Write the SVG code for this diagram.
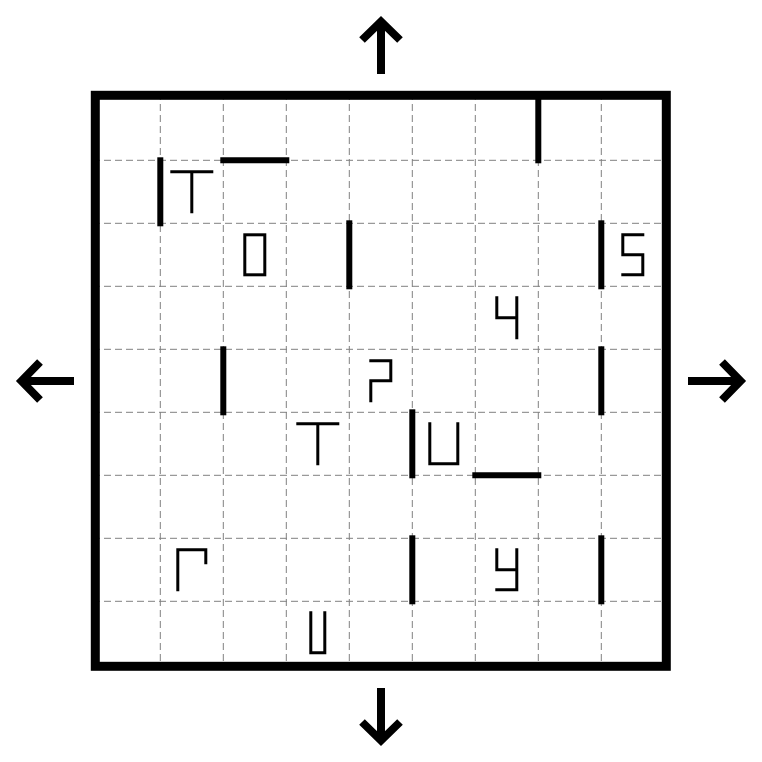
<svg xmlns="http://www.w3.org/2000/svg" width="762" height="762" viewBox="0 0 762 762">
<style>
.grid{stroke:#808080;stroke-width:1;stroke-dasharray:7 4;fill:none}
.wall{stroke:#000;stroke-width:6;stroke-linecap:square;fill:none}
.glyph{stroke:#000;stroke-width:3;stroke-linecap:square;stroke-linejoin:miter;fill:none}
.arrow{stroke:#000;stroke-width:8;stroke-linecap:butt;stroke-linejoin:miter;fill:none}
.border{stroke:#000;stroke-width:9;fill:none}
</style>
<rect x="0" y="0" width="762" height="762" fill="#fff"/>
<g id="grid">
<path class="grid" d="M160.3 93V666 M223.3 93V666 M286.3 93V666 M349.3 93V666 M412.3 93V666 M475.3 93V666 M538.3 93V666 M601.3 93V666"/>
<path class="grid" d="M93 160.3H666 M93 223.3H666 M93 286.3H666 M93 349.3H666 M93 412.3H666 M93 475.3H666 M93 538.3H666 M93 601.3H666"/>
</g>
<g id="walls">
<line class="wall" x1="160.3" y1="160.3" x2="160.3" y2="223.3"/>
<line class="wall" x1="223.3" y1="160.3" x2="286.3" y2="160.3"/>
<line class="wall" x1="349.3" y1="223.3" x2="349.3" y2="286.3"/>
<line class="wall" x1="538.3" y1="97.3" x2="538.3" y2="160.3"/>
<line class="wall" x1="601.3" y1="223.3" x2="601.3" y2="286.3"/>
<line class="wall" x1="223.3" y1="349.3" x2="223.3" y2="412.3"/>
<line class="wall" x1="601.3" y1="349.3" x2="601.3" y2="412.3"/>
<line class="wall" x1="412.3" y1="412.3" x2="412.3" y2="475.3"/>
<line class="wall" x1="475.3" y1="475.3" x2="538.3" y2="475.3"/>
<line class="wall" x1="412.3" y1="538.3" x2="412.3" y2="601.3"/>
<line class="wall" x1="601.3" y1="538.3" x2="601.3" y2="601.3"/>
</g>
<rect id="frame" class="border" x="95.3" y="95.3" width="571" height="571"/>
<g id="glyph-T1" transform="translate(191.8,191.8)"><path class="glyph" d="M-20 -20H20 M0 -20V20"/></g>
<g id="glyph-0" transform="translate(254.8,254.8)"><rect class="glyph" x="-10" y="-20" width="20" height="40"/></g>
<g id="glyph-S" transform="translate(632.8,254.8)"><path class="glyph" d="M10 -20H-10V0H10V20H-10"/></g>
<g id="glyph-4" transform="translate(506.8,317.8)"><path class="glyph" d="M-10 -20V0H10 M10 -20V20"/></g>
<g id="glyph-q" transform="translate(380.8,380.8)"><path class="glyph" d="M-10 -20H10V0H-10V20"/></g>
<g id="glyph-T2" transform="translate(317.8,443.8)"><path class="glyph" d="M-20 -20H20 M0 -20V20"/></g>
<g id="glyph-U1" transform="translate(443.8,443.8)"><path class="glyph" d="M-14 -20V20H14V-20"/></g>
<g id="glyph-G" transform="translate(191.8,569.8)"><path class="glyph" d="M-14 20V-20H14V-7"/></g>
<g id="glyph-y" transform="translate(506.8,569.8)"><path class="glyph" d="M-10 -20V0H10 M10 -20V20H-10"/></g>
<g id="glyph-U2" transform="translate(317.8,632.8)"><path class="glyph" d="M-7 -20V20H7V-20"/></g>
<g id="arrow-up"><path class="arrow" d="M381 74V24 M362 40L381 21.5L400 40"/></g>
<g id="arrow-left"><path class="arrow" d="M74 381H24 M40 362L21.5 381L40 400"/></g>
<g id="arrow-right"><path class="arrow" d="M688 381H738 M722 362L740.5 381L722 400"/></g>
<g id="arrow-down"><path class="arrow" d="M381 688V738 M362 722L381 740.5L400 722"/></g>
</svg>
